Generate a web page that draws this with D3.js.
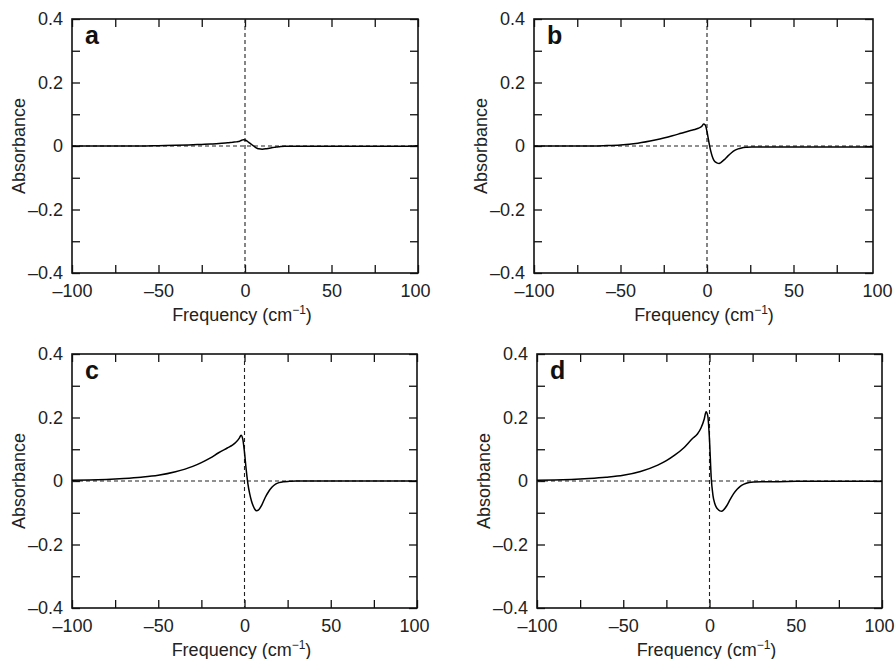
<!DOCTYPE html>
<html>
<head>
<meta charset="utf-8">
<script src="https://cdn.jsdelivr.net/npm/d3@7"></script>
<style>
  body { margin: 0; background: #fff; }
  svg { font-family: "Liberation Sans", Arial, Helvetica, sans-serif; }
</style>
</head>
<body>
<div id="chart"></div>
<script>
var w = 895;
var h = 659;

// frequency grid (cm-1), shared by all four spectra
var freq = [-100, -90, -80, -70, -60, -50, -40, -30, -25, -20, -15, -10, -7, -5, -3, -2, -1,
            0, 1, 2, 3, 4, 5, 6, 7, 8, 10, 12, 14, 16, 18, 20, 23, 26, 30, 40, 50, 60, 70, 80, 90, 100];

// absorbance
var absA = [0, 0, 0, 0, 0, 0.001, 0.002, 0.004, 0.005, 0.006, 0.008, 0.010, 0.012, 0.013, 0.015, 0.018, 0.020,
            0.019, 0.016, 0.012, 0.008, 0.004, 0.000, -0.004, -0.007, -0.009, -0.010, -0.009, -0.007, -0.005, -0.003, -0.002, -0.001, -0.001, -0.001, -0.001, -0.001, -0.001, -0.001, -0.001, -0.001, 0.001];
var absB = [0, 0, 0, 0, 0.001, 0.003, 0.009, 0.019, 0.025, 0.032, 0.040, 0.048, 0.052, 0.056, 0.062, 0.069, 0.066,
            0.045, 0.015, -0.012, -0.032, -0.045, -0.051, -0.054, -0.055, -0.052, -0.043, -0.032, -0.022, -0.014, -0.009, -0.006, -0.004, -0.003, -0.003, -0.003, -0.003, -0.003, -0.003, -0.003, -0.003, -0.003];
var absC = [0.002, 0.003, 0.005, 0.008, 0.012, 0.018, 0.029, 0.046, 0.058, 0.072, 0.089, 0.104, 0.113, 0.122, 0.135, 0.144, 0.132,
            0.090, 0.035, -0.010, -0.040, -0.062, -0.078, -0.089, -0.094, -0.092, -0.076, -0.052, -0.033, -0.019, -0.010, -0.005, -0.002, -0.001, 0, 0, 0, 0, 0, 0, 0, 0];
var absD = [0.002, 0.003, 0.005, 0.008, 0.012, 0.018, 0.030, 0.050, 0.064, 0.082, 0.104, 0.133, 0.148, 0.166, 0.196, 0.218, 0.205,
            0.130, 0.010, -0.045, -0.070, -0.083, -0.090, -0.094, -0.095, -0.092, -0.078, -0.058, -0.040, -0.026, -0.016, -0.010, -0.005, -0.003, -0.002, -0.002, -0.001, -0.001, -0.001, -0.001, -0.001, -0.001];

var panelLetters = ["a", "b", "c", "d"];
var seriesList = [absA, absB, absC, absD];

var xTicks = [-100, -75, -50, -25, 0, 25, 50, 75, 100];
var xTickLabels = ["\u2013100", "", "\u201350", "", "0", "", "50", "", "100"];
var yTicks = [-0.4, -0.3, -0.2, -0.1, 0, 0.1, 0.2, 0.3, 0.4];
var yTickLabels = ["\u20130.4", "", "\u20130.2", "", "0", "", "0.2", "", "0.4"];

// panel placement: left, top, scale width, frame width
var panels = [
  {left: 72,  top: 19,  width: 346, frame: 346},
  {left: 534, top: 19,  width: 346, frame: 339},
  {left: 72,  top: 354, width: 345, frame: 345},
  {left: 537, top: 354, width: 345, frame: 345}
];
var ph = 254;
var tick = 8;
var fs = 18;

var svg = d3.select("#chart")
            .append("svg")
                .attr("width", w)
                .attr("height", h);

panels.forEach(function(p, i) {
    var x = d3.scaleLinear().domain([-100, 100]).range([0, p.width]);
    var y = d3.scaleLinear().domain([-0.4, 0.4]).range([ph, 0]);

    var g = svg.append("g")
        .attr("transform", "translate(" + p.left + "," + p.top + ")");

    var fmtX = function(d) { return xTickLabels[xTicks.indexOf(d)]; };
    var fmtY = function(d) { return yTickLabels[yTicks.indexOf(d)]; };

    // bottom axis with labels
    var bottom = g.append("g")
        .attr("class", "axis")
        .attr("transform", "translate(0," + ph + ")")
        .call(d3.axisBottom(x).tickValues(xTicks).tickSizeInner(-tick).tickSizeOuter(0)
              .tickPadding(11).tickFormat(fmtX));
    bottom.selectAll(".tick line").filter(function(d) { return x(d) > p.frame; }).remove();
    bottom.selectAll(".tick text").filter(function(d) { return d === 100; }).attr("dx", -3);
    // top axis, ticks only
    g.append("g")
        .attr("class", "axis")
        .call(d3.axisTop(x).tickValues(xTicks.filter(function(d) { return x(d) <= p.frame; }))
              .tickSizeInner(-tick).tickSizeOuter(0).tickFormat(""));
    // left axis with labels
    g.append("g")
        .attr("class", "axis")
        .call(d3.axisLeft(y).tickValues(yTicks).tickSizeInner(-tick).tickSizeOuter(0)
              .tickPadding(9).tickFormat(fmtY));
    // right axis, ticks only
    g.append("g")
        .attr("class", "axis")
        .attr("transform", "translate(" + p.frame + ",0)")
        .call(d3.axisRight(y).tickValues(yTicks).tickSizeInner(-tick).tickSizeOuter(0).tickFormat(""));

    g.selectAll(".axis .domain").remove();
    g.selectAll(".axis line").attr("stroke", "#111").attr("stroke-width", 1.3);
    g.selectAll(".axis text")
        .attr("font-size", fs)
        .attr("fill", "#222")
        .attr("font-family", "Liberation Sans, Arial, sans-serif");

    // frame
    g.append("rect")
        .attr("x", 0)
        .attr("y", 0)
        .attr("width", p.frame)
        .attr("height", ph)
        .attr("fill", "none")
        .attr("stroke", "#111")
        .attr("stroke-width", 1.6);

    // dashed zero lines
    g.append("line")
        .attr("x1", 0).attr("x2", p.frame)
        .attr("y1", y(0)).attr("y2", y(0))
        .attr("stroke", "#222")
        .attr("stroke-width", 1.1)
        .attr("stroke-dasharray", "4,3");
    g.append("line")
        .attr("x1", x(0)).attr("x2", x(0))
        .attr("y1", 0).attr("y2", ph)
        .attr("stroke", "#222")
        .attr("stroke-width", 1.1)
        .attr("stroke-dasharray", "4,3");

    // spectrum
    var data = freq.map(function(f, k) { return [f, seriesList[i][k]]; });
    var line = d3.line()
        .x(function(d) { return Math.min(x(d[0]), p.frame); })
        .y(function(d) { return y(d[1]); })
        .curve(d3.curveMonotoneX);
    g.append("path")
        .datum(data)
        .attr("fill", "none")
        .attr("stroke", "#000")
        .attr("stroke-width", 1.5)
        .attr("d", line);

    // panel letter
    g.append("text")
        .attr("x", 13)
        .attr("y", 25)
        .attr("font-size", 25)
        .attr("font-weight", "bold")
        .attr("fill", "#111")
        .text(panelLetters[i]);

    // axis titles
    var xt = g.append("text")
        .attr("x", p.width / 2 - 3)
        .attr("y", ph + 48)
        .attr("text-anchor", "middle")
        .attr("font-size", fs)
        .attr("fill", "#222");
    xt.append("tspan").text("Frequency (cm");
    xt.append("tspan").attr("font-size", 12).attr("dy", -7).text("\u22121");
    xt.append("tspan").attr("dy", 7).text(")");

    g.append("text")
        .attr("transform", "translate(-47," + (ph / 2) + ") rotate(-90)")
        .attr("text-anchor", "middle")
        .attr("font-size", fs)
        .attr("fill", "#222")
        .text("Absorbance");
});
</script>
</body>
</html>
